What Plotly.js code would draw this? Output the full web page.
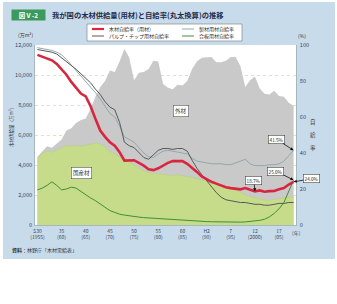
<!DOCTYPE html>
<html><head><meta charset="utf-8">
<script src="https://cdn.plot.ly/plotly-3.0.1.min.js"></script>
<style>
html,body{margin:0;padding:0;background:#fff;}
#panel{position:absolute;left:3px;top:2px;width:332px;height:257px;background:#c8dbeb;}
#chart{position:absolute;left:0;top:0;width:337px;height:304px;}
</style></head><body>
<div id="panel"></div><div id="chart"></div>
<script>
const years = [1955,1956,1957,1958,1959,1960,1961,1962,1963,1964,
  1965,1966,1967,1968,1969,1970,1971,1972,1973,1974,
  1975,1976,1977,1978,1979,1980,1981,1982,1983,1984,
  1985,1986,1987,1988,1989,1990,1991,1992,1993,1994,
  1995,1996,1997,1998,1999,2000,2001,2002,2003,2004,
  2005,2006,2007,2008];
// 木材供給量（用材）合計（万m³）= 外材 + 国産材
const totalSupply = [4550,4900,5250,5150,5450,5700,6300,6450,6800,7000,
  7100,7750,8550,9200,9600,10300,10200,10900,11750,11150,
  9650,10150,10200,10400,10950,10900,9400,9150,9050,9350,
  9300,9600,10400,10900,11150,11200,11200,10850,10850,10950,
  11200,11200,10600,9200,9650,9900,9100,8750,8700,8950,
  8600,8550,8150,7950];
// 国産材（万m³）
const domesticSupply = [4450,4750,4950,4850,5000,5150,5300,5250,5300,5250,
  5300,5400,5450,5400,5200,4900,4700,4550,4400,4200,
  3950,3750,3600,3500,3450,3450,3400,3350,3300,3350,
  3300,3250,3200,3100,3000,2950,2850,2750,2650,2550,
  2400,2300,2200,2000,1900,1850,1750,1650,1650,1700,
  1700,1750,1850,1900];
// 木材自給率（用材）(%)
const rateAll = [94.5,93.5,92.5,91.5,89.5,86.7,83.5,79.5,76,73,
  71.4,66,59,52.5,49,46,44,40.5,35.8,36,
  36,34.5,33,31,30.5,31.5,33,34.5,35.5,35.5,
  35.5,34,32,29.5,27,25.5,24,23,22,21,
  20.5,20,19.8,20.5,19.5,18.7,19.2,18.5,18.8,18.9,
  19.8,20.5,22.5,24.0];
// パルプ・チップ用材自給率 (%)
const ratePulp = [97.5,97,96.5,96,95,93,91,89,86.5,84,
  81.5,79,75.5,72.5,68.5,65.5,64,57,46,44,
  43,40,37.5,36.5,39,41.5,42.5,42.5,42,42.5,
  42.5,41,36,31.5,28,24.5,21,18,15.5,14,
  13.5,13,12.5,12.5,12,11.5,11.5,11,11,11.5,
  12,12,12.5,12.5];
// 製材用材自給率 (%)
const rateSawn = [98.5,98,97.5,97,96,94.5,92,89,86,83,
  80,77,73.5,70,66,62,60,55,49,47.5,
  46,43,40,38,37.5,39.5,41,41.5,41,40.5,
  40,39.5,37,35.5,35,34.5,34,34,34,33.5,
  33.5,34.5,35.5,36.5,34,33,33,33,33.5,33.5,
  34,35.5,38.5,41.5];
// 合板用材自給率 (%)
const ratePlywood = [19.5,20.5,22,24,22,19.5,20,21,20.5,18.5,
  17,15,13.5,11.5,9.5,8,7,6,5.5,5,
  4.7,4.4,4.1,3.9,3.7,3.5,3.3,3.1,3,2.8,
  2.7,2.5,2.3,2.2,2,1.9,1.8,1.7,1.6,1.5,
  1.5,1.5,1.6,1.7,1.9,2.2,2.6,3.2,4.5,6.5,
  9,12.5,19,25.0];
const xTickVals = [1955,1960,1965,1970,1975,1980,1985,1990,1995,2000,2005];
const xTickText = ['S30<br>(1955)','35<br>(60)','40<br>(65)','45<br>(70)','50<br>(75)','55<br>(80)','60<br>(85)','H2<br>(90)','7<br>(95)','12<br>(2000)','17<br>(05)'];
const seriesNames = ['木材自給率（用材）','パルプ・チップ用材自給率','製材用材自給率','合板用材自給率'];
const areaNames = ['外材','国産材'];
const volumeLabels = ['5,923.7万m³','1,873.2万m³'];

const F = 'Noto Sans CJK JP, sans-serif';
const C = {gray:'#c9c9c9', green:'#c6dc8a', red:'#d8263f', pulp:'#585858', sawn:'#91a9ae', ply:'#3f8f3a'};
function X(px){return (px-35)/261;}
function Y(py){return (225-py)/180;}
const last = years.length-1;
const pct = v => v.toFixed(1)+'%';
const minI = years.indexOf(2000);

const traces = [
  {x:years, y:totalSupply, type:'scatter', mode:'lines', fill:'tozeroy', fillcolor:C.gray, line:{width:0, color:C.gray}, name:areaNames[0], showlegend:false},
  {x:years, y:domesticSupply, type:'scatter', mode:'lines', fill:'tozeroy', fillcolor:C.green, line:{width:0.5, color:'#b5cf78'}, name:areaNames[1], showlegend:false},
  {x:years, y:ratePlywood, yaxis:'y2', type:'scatter', mode:'lines', line:{width:1, color:C.ply}, name:seriesNames[3], showlegend:false},
  {x:years, y:rateSawn, yaxis:'y2', type:'scatter', mode:'lines', line:{width:1, color:C.sawn}, name:seriesNames[2], showlegend:false},
  {x:years, y:ratePulp, yaxis:'y2', type:'scatter', mode:'lines', line:{width:1, color:C.pulp}, name:seriesNames[1], showlegend:false},
  {x:years, y:rateAll, yaxis:'y2', type:'scatter', mode:'lines', line:{width:2.6, color:C.red}, name:seriesNames[0], showlegend:false}
];

const lab = (o)=>Object.assign({xref:'paper', yref:'paper', xanchor:'center', yanchor:'middle', showarrow:false, font:{family:F, size:5.5, color:'#333'}}, o);
const box = (o)=>Object.assign({showarrow:true, arrowhead:2, arrowsize:0.8, arrowwidth:0.8, arrowcolor:'#111',
  bgcolor:'#fff', bordercolor:'#444', borderwidth:0.6, borderpad:1, font:{family:F, size:4.6, color:'#222'}}, o);

const annotations = [
  lab({x:X(28.5), y:Y(15.5), text:'<b>図Ⅴ-2</b>', bgcolor:'#3c9b5c', font:{family:F,size:6.5,color:'#fff'}, width:31, height:8}),
  lab({x:X(50), y:Y(15.5), xanchor:'left', text:'<b>我が国の木材供給量(用材)と自給率(丸太換算)の推移</b>', font:{family:F,size:7.3,color:'#1f2d4d'}}),
  lab({x:X(107), y:Y(29), xanchor:'left', text:seriesNames[0], font:{family:F,size:5,color:'#333'}}),
  lab({x:X(107), y:Y(36), xanchor:'left', text:seriesNames[1], font:{family:F,size:5,color:'#333'}}),
  lab({x:X(197), y:Y(29), xanchor:'left', text:seriesNames[2], font:{family:F,size:5,color:'#333'}}),
  lab({x:X(197), y:Y(36), xanchor:'left', text:seriesNames[3], font:{family:F,size:5,color:'#333'}}),
  lab({x:X(25), y:Y(35), text:'(万m³)', font:{family:F,size:5,color:'#333'}}),
  lab({x:X(302), y:Y(35), text:'(%)', font:{family:F,size:5,color:'#333'}}),
  lab({x:X(12), y:Y(126), text:'木材供給量（万m³）', textangle:-90, font:{family:F,size:4.5,color:'#333'}}),
  lab({x:X(313), y:Y(122), text:'自', font:{family:F,size:5.5,color:'#333'}}),
  lab({x:X(313), y:Y(135), text:'給', font:{family:F,size:5.5,color:'#333'}}),
  lab({x:X(313), y:Y(148), text:'率', font:{family:F,size:5.5,color:'#333'}}),
  lab({x:X(296), y:Y(233), text:'(年)', font:{family:F,size:5,color:'#3a4a5a'}}),
  lab({x:X(10), y:Y(250), xanchor:'left', text:'<b>資料</b>：林野庁「木材需給表」', font:{family:F,size:5,color:'#333'}}),
  lab({x:X(181), y:Y(111), text:areaNames[0], bgcolor:'#fff', bordercolor:'#555', borderwidth:0.6, borderpad:1.5}),
  lab({x:X(81.5), y:Y(173), text:areaNames[1], bgcolor:'#fff', bordercolor:'#555', borderwidth:0.6, borderpad:1.5}),
  box({x:X(292), y:Y(127), ax:-14, ay:-15.5, text:volumeLabels[0]}),
  box({xref:'x', yref:'y2', x:years[last], y:rateSawn[last], ax:-17, ay:-11, text:pct(rateSawn[last])}),
  box({xref:'x', yref:'y2', x:years[last], y:ratePlywood[last], ax:-18, ay:-9, text:pct(ratePlywood[last])}),
  box({xref:'x', yref:'y2', x:years[minI], y:rateAll[minI], ax:-1, ay:-11, text:pct(rateAll[minI])}),
  box({xref:'x', yref:'y2', x:years[last], y:rateAll[last], ax:18, ay:-3, text:pct(rateAll[last])}),
  box({x:X(296), y:Y(204), ax:12, ay:1.5, arrowhead:7, text:pct(ratePulp[last])}),
  box({x:X(296), y:Y(215), ax:18, ay:3, arrowhead:7, text:volumeLabels[1]})
];

const shapes = [
  {type:'rect', xref:'paper', yref:'paper', x0:X(87), x1:X(242), y0:Y(41), y1:Y(24), fillcolor:'#fff', line:{color:'#888', width:0.7}},
  {type:'line', xref:'paper', yref:'paper', x0:X(92), x1:X(104), y0:Y(29), y1:Y(29), line:{color:C.red, width:2.2}},
  {type:'line', xref:'paper', yref:'paper', x0:X(92), x1:X(104), y0:Y(36), y1:Y(36), line:{color:C.pulp, width:1}},
  {type:'line', xref:'paper', yref:'paper', x0:X(182), x1:X(194), y0:Y(29), y1:Y(29), line:{color:C.sawn, width:1}},
  {type:'line', xref:'paper', yref:'paper', x0:X(182), x1:X(194), y0:Y(36), y1:Y(36), line:{color:C.ply, width:1}}
];

const layout = {
  width:337, height:304,
  margin:{l:35, r:41, t:45, b:79, pad:0},
  paper_bgcolor:'rgba(0,0,0,0)', plot_bgcolor:'#fff',
  showlegend:false,
  xaxis:{range:[1954.5,2008.5], tickvals:xTickVals, ticktext:xTickText, ticks:'', showgrid:false, zeroline:false,
    showline:true, linecolor:'#9aa', linewidth:0.7, tickfont:{family:F, size:5, color:'#3a4a5a'}, ticklabelstandoff:1},
  yaxis:{range:[0,12000], dtick:2000, tickformat:',', ticks:'', showgrid:true, gridcolor:'#e3cfa6', griddash:'dot', gridwidth:0.7,
    zeroline:false, showline:true, linecolor:'#9aa', linewidth:0.7, tickfont:{family:F, size:5.6, color:'#3a4a5a'}, ticklabelstandoff:1},
  yaxis2:{range:[0,100], dtick:20, overlaying:'y', side:'right', ticks:'', showgrid:false, zeroline:false,
    showline:true, linecolor:'#9aa', linewidth:0.7, tickfont:{family:F, size:5.6, color:'#3a4a5a'}, ticklabelstandoff:2},
  annotations:annotations,
  shapes:shapes
};
Plotly.newPlot('chart', traces, layout, {staticPlot:true, displayModeBar:false});
</script></body></html>
